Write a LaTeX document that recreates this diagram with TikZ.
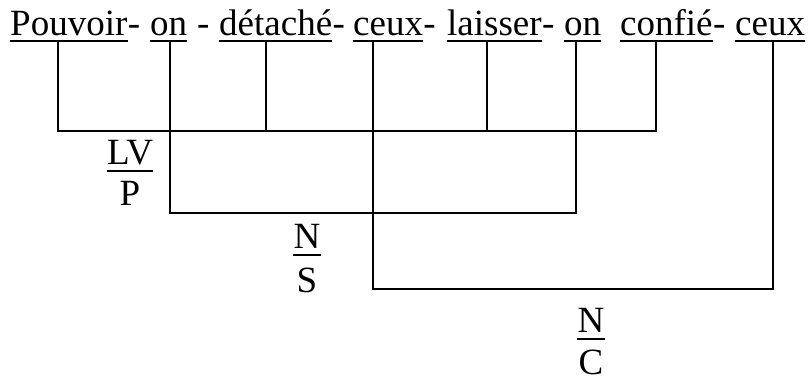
\documentclass[tikz,border=0pt]{standalone}
\usepackage{fontspec}
\setmainfont{Liberation Serif}
\begin{document}
\begin{tikzpicture}[x=1pt,y=-1pt,
  every node/.style={font=\fontsize{37pt}{43pt}\selectfont, inner sep=0pt},
  word/.style={anchor=base west, text depth=6pt},
  hyph/.style={anchor=base west},
  lab/.style={anchor=base, text depth=6.5pt},
  uline/.style={line width=1.6pt},
  link/.style={line width=2.8pt, line join=miter},
  bar/.style={line width=2pt}]
\useasboundingbox (0,0) rectangle (808,381);

% sentence, word by word
\node[word] (w1) at (10,35)  {Pouvoir};
\node[hyph] (h1) at (w1.base east) {-};
\node[word] (w2) at (150,35) {on};
\node[hyph] (h2) at (197,35) {-};
\node[word] (w3) at (219,35) {détaché};
\node[hyph] (h3) at (w3.base east) {-};
\node[word] (w4) at (353,35) {ceux};
\node[hyph] (h4) at (w4.base east) {-};
\node[word] (w5) at (447,35) {laisser};
\node[hyph] (h5) at (w5.base east) {-};
\node[word] (w6) at (564,35) {on};
\node[word] (w7) at (620,35) {confié};
\node[hyph] (h7) at (w7.base east) {-};
\node[word] (w8) at (735,35) {ceux};

\foreach \w in {w1,w2,w3,w4,w5,w6,w7,w8}
  \draw[uline] (\w.south west) -- (\w.south east);

% junction corners
\coordinate (a1) at (58,131);
\coordinate (a2) at (266,131);
\coordinate (a3) at (487,131);
\coordinate (a4) at (656,131);
\coordinate (b1) at (170,213);
\coordinate (b2) at (576,213);
\coordinate (c1) at (373,289);
\coordinate (c2) at (773,289);

% LV / P
\draw[link] (w1.south -| a1) -- (a1) -- (a4) -- (w7.south -| a4);
\draw[link] (w3.south -| a2) -- (a2);
\draw[link] (w5.south -| a3) -- (a3);
% N / S
\draw[link] (w2.south -| b1) -- (b1) -- (b2) -- (w6.south -| b2);
% N / C
\draw[link] (w4.south -| c1) -- (c1) -- (c2) -- (w8.south -| c2);

% labels
\node[lab] (l1) at (130,164) {LV};
\node[lab] (l1d) at (130,205) {P};
\draw[bar] (l1.south west) -- (l1.south east);
\node[lab] (l2) at (307,248) {N};
\node[lab] (l2d) at (307,292) {S};
\draw[bar] (l2.south west) -- (l2.south east);
\node[lab] (l3) at (591,332) {N};
\node[lab] (l3d) at (591,374) {C};
\draw[bar] (l3.south west) -- (l3.south east);
\end{tikzpicture}
\end{document}
